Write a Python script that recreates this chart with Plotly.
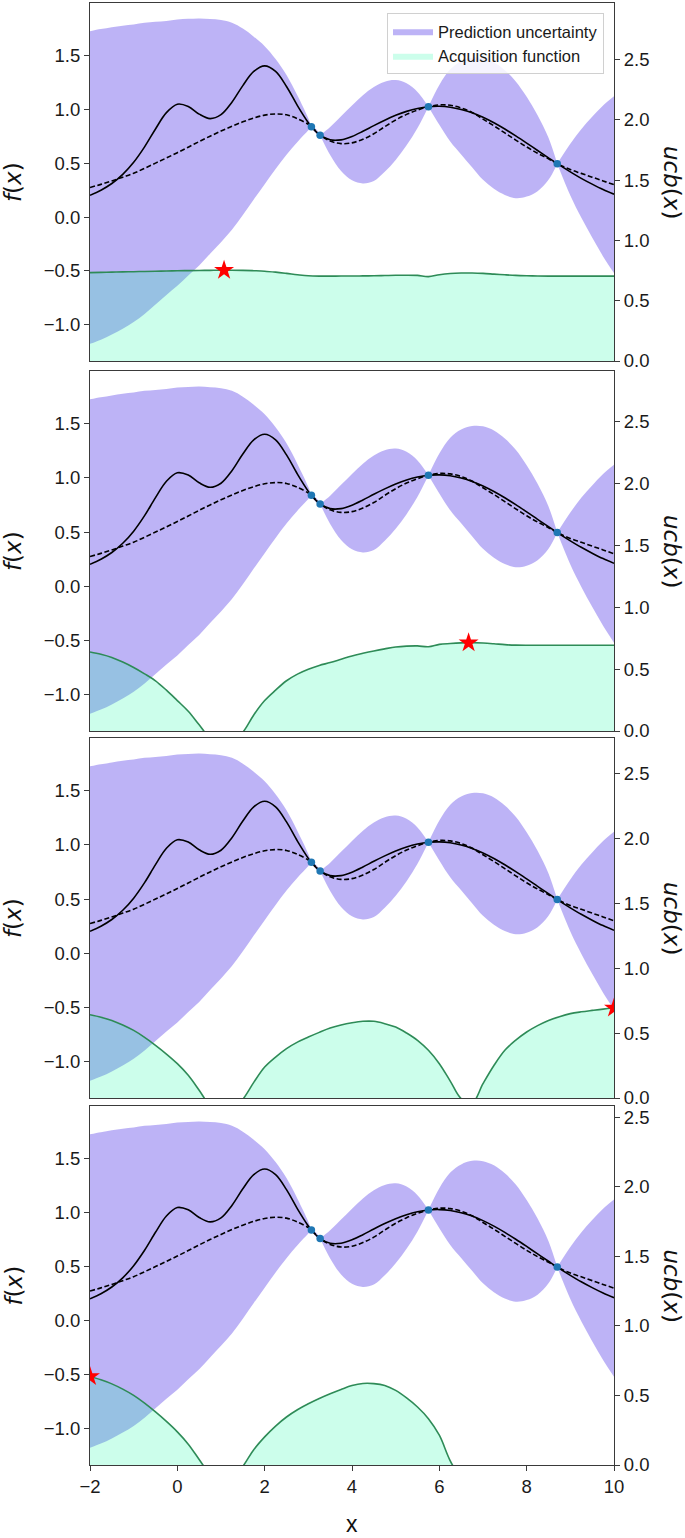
import plotly.graph_objects as go

# ---------------- data ----------------
X_GP = [-2.0, -1.75, -1.5, -1.25, -1.0, -0.75, -0.5, -0.25, 0.0, 0.25, 0.5, 0.75,
        1.0, 1.25, 1.5, 1.75, 2.0, 2.25, 2.5, 2.75, 3.0, 3.07, 3.17, 3.27, 3.5, 3.75,
        4.0, 4.25, 4.5, 4.75, 5.0, 5.25, 5.5, 5.75, 6.0, 6.25, 6.5, 6.75, 7.0, 7.25,
        7.5, 7.75, 8.0, 8.25, 8.5, 8.7, 9.0, 9.25, 9.5, 9.75, 10.0]

F_TRUE = [0.202, 0.249, 0.311, 0.396, 0.508, 0.651, 0.817, 0.968, 1.046, 1.025, 0.954, 0.913,
          0.950, 1.065, 1.219, 1.350, 1.402, 1.350, 1.211, 1.034, 0.875, 0.838, 0.794, 0.759,
          0.716, 0.716, 0.747, 0.795, 0.848, 0.898, 0.943, 0.980, 1.007, 1.023, 1.027, 1.019,
          0.998, 0.967, 0.925, 0.874, 0.816, 0.753, 0.686, 0.617, 0.549, 0.495, 0.419, 0.359,
          0.305, 0.255, 0.212]

GP_MEAN = [0.274, 0.303, 0.335, 0.370, 0.406, 0.452, 0.500, 0.548, 0.597, 0.648, 0.700, 0.750,
           0.797, 0.842, 0.883, 0.918, 0.945, 0.956, 0.948, 0.912, 0.860, 0.838, 0.798, 0.759,
           0.705, 0.681, 0.688, 0.722, 0.772, 0.838, 0.900, 0.952, 0.992, 1.023, 1.040, 1.036,
           1.012, 0.970, 0.908, 0.846, 0.780, 0.714, 0.650, 0.592, 0.540, 0.495, 0.440, 0.405,
           0.370, 0.335, 0.300]

GP_UPPER = [1.724, 1.743, 1.760, 1.775, 1.786, 1.802, 1.810, 1.818, 1.832, 1.838, 1.842, 1.836,
            1.827, 1.802, 1.748, 1.673, 1.585, 1.466, 1.318, 1.127, 0.915, 0.838, 0.818, 0.759,
            0.835, 0.935, 1.035, 1.130, 1.205, 1.255, 1.270, 1.240, 1.160, 1.023, 1.225, 1.370,
            1.445, 1.478, 1.475, 1.436, 1.362, 1.258, 1.115, 0.945, 0.735, 0.495, 0.680, 0.815,
            0.930, 1.035, 1.120]

GP_LOWER = [-1.176, -1.137, -1.090, -1.035, -0.974, -0.898, -0.810, -0.722, -0.638, -0.542, -0.450, -0.340,
            -0.233, -0.118, 0.018, 0.163, 0.305, 0.446, 0.578, 0.697, 0.805, 0.838, 0.778, 0.759,
            0.575, 0.427, 0.341, 0.312, 0.335, 0.420, 0.530, 0.665, 0.825, 1.023, 0.855, 0.700,
            0.580, 0.462, 0.345, 0.262, 0.205, 0.175, 0.190, 0.240, 0.345, 0.495, 0.200, -0.005,
            -0.190, -0.365, -0.520]

X_OBS = [3.07, 3.27, 5.75, 8.7]
Y_OBS = [0.838, 0.759, 1.023, 0.495]

X_ACQ = [-2.0, -1.75, -1.5, -1.25, -1.0, -0.75, -0.5, -0.25, 0.0, 0.25, 0.5, 0.75,
         1.0, 1.25, 1.5, 1.75, 2.0, 2.25, 2.5, 2.75, 3.0, 3.25, 3.5, 3.75,
         4.0, 4.25, 4.5, 4.75, 5.0, 5.25, 5.5, 5.75, 6.0, 6.25, 6.5, 6.75,
         7.0, 7.25, 7.5, 7.75, 8.0, 8.25, 8.5, 8.75, 9.0, 9.25, 9.5, 9.75, 10.0]

UCB_1 = [0.733, 0.735, 0.737, 0.739, 0.741, 0.743, 0.745, 0.747, 0.749, 0.750, 0.751, 0.752,
         0.753, 0.753, 0.752, 0.749, 0.745, 0.737, 0.727, 0.716, 0.707, 0.704, 0.704, 0.705,
         0.705, 0.706, 0.707, 0.709, 0.711, 0.712, 0.710, 0.700, 0.716, 0.726, 0.730, 0.730,
         0.727, 0.721, 0.715, 0.710, 0.707, 0.705, 0.704, 0.704, 0.704, 0.704, 0.704, 0.704, 0.704]

UCB_2 = [0.639, 0.620, 0.594, 0.557, 0.513, 0.462, 0.406, 0.330, 0.246, 0.160, 0.050, -0.060,
         -0.120, -0.090, -0.010, 0.130, 0.246, 0.330, 0.406, 0.460, 0.500, 0.530, 0.553, 0.580,
         0.607, 0.628, 0.647, 0.664, 0.679, 0.686, 0.688, 0.681, 0.700, 0.707, 0.712, 0.714,
         0.711, 0.705, 0.698, 0.694, 0.693, 0.693, 0.693, 0.693, 0.693, 0.693, 0.693, 0.693, 0.693]

UCB_3 = [0.641, 0.622, 0.597, 0.562, 0.520, 0.467, 0.405, 0.338, 0.264, 0.175, 0.060, -0.060,
         -0.120, -0.090, -0.010, 0.120, 0.238, 0.315, 0.380, 0.430, 0.469, 0.505, 0.538, 0.562,
         0.579, 0.590, 0.590, 0.572, 0.546, 0.500, 0.444, 0.367, 0.264, 0.130, -0.005, -0.040,
         0.110, 0.250, 0.367, 0.445, 0.508, 0.557, 0.597, 0.626, 0.649, 0.663, 0.674, 0.684, 0.692]

UCB_4 = [0.636, 0.612, 0.583, 0.545, 0.500, 0.444, 0.381, 0.313, 0.238, 0.150, 0.040, -0.070,
         -0.130, -0.100, -0.010, 0.110, 0.202, 0.280, 0.345, 0.397, 0.440, 0.478, 0.512, 0.543,
         0.571, 0.586, 0.585, 0.572, 0.536, 0.482, 0.417, 0.333, 0.214, 0.030, -0.100, -0.200,
         -0.250, -0.280, -0.300, -0.310, -0.315, -0.315, -0.310, -0.305, -0.300, -0.300, -0.300, -0.300, -0.300]

STAR_X = [1.07, 6.67, 10.0, -2.0]
STAR_Y = [0.752, 0.714, 0.692, 0.636]
UCB_MAX = [2.97, 2.91, 2.77, 2.58]

X_TICKS = [-2, 0, 2, 4, 6, 8, 10]
F_TICKS = [-1.0, -0.5, 0.0, 0.5, 1.0, 1.5]
U_TICKS = [0.0, 0.5, 1.0, 1.5, 2.0, 2.5]

LEGEND_BAND = "Prediction uncertainty"
LEGEND_ACQ = "Acquisition function"

# ---------------- styling ----------------
W, H = 685, 1538
ML, MR, MT, MB = 90, 71, 3, 73
PANEL_PX = [(3, 361), (371, 731), (738, 1098), (1106, 1465)]
PH = H - MT - MB
PW = W - ML - MR

def py2paper(py):
    return (H - MB - py) / PH

def px2paper(px):
    return (px - ML) / PW

SANS = "Liberation Sans, Arial, Helvetica, sans-serif"
MATH = "DejaVu Sans, sans-serif"
AX_COL = "#3a3a3a"
BAND_COL = "rgba(123,104,238,0.5)"
ACQ_FILL = "rgba(0,250,154,0.2)"
ACQ_LINE = "#2e8b57"

# band segments end at the observed points so the band pinches sharply there
cuts = [0] + [X_GP.index(v) for v in X_OBS] + [len(X_GP) - 1]
segments = [(cuts[k], cuts[k + 1]) for k in range(len(cuts) - 1)]

fig = go.Figure()
ucbs = [UCB_1, UCB_2, UCB_3, UCB_4]

for i in range(4):
    xa = "x" if i == 0 else f"x{i+1}"
    ya = "y" if i == 0 else f"y{2*i+1}"
    yb = f"y{2*i+2}"
    first = i == 0
    for k, (a, b) in enumerate(segments):
        xs = X_GP[a:b + 1]
        fig.add_trace(go.Scatter(x=xs, y=GP_LOWER[a:b + 1], xaxis=xa, yaxis=ya, mode="lines",
                                 line=dict(width=0, shape="spline"), showlegend=False,
                                 hoverinfo="skip"))
        fig.add_trace(go.Scatter(x=xs, y=GP_UPPER[a:b + 1], xaxis=xa, yaxis=ya, mode="lines",
                                 line=dict(width=0, shape="spline"), fill="tonexty",
                                 fillcolor=BAND_COL, name=LEGEND_BAND,
                                 showlegend=first and k == 0, legendgroup="band"))
    fig.add_trace(go.Scatter(x=X_GP, y=F_TRUE, xaxis=xa, yaxis=ya, mode="lines",
                             line=dict(color="black", width=1.6, shape="spline"),
                             showlegend=False))
    fig.add_trace(go.Scatter(x=X_GP, y=GP_MEAN, xaxis=xa, yaxis=ya, mode="lines",
                             line=dict(color="black", width=1.6, dash="5px,2.5px", shape="spline"),
                             showlegend=False))
    fig.add_trace(go.Scatter(x=X_OBS, y=Y_OBS, xaxis=xa, yaxis=ya, mode="markers",
                             marker=dict(color="#1f77b4", size=7.5), showlegend=False))
    fig.add_trace(go.Scatter(x=X_ACQ, y=ucbs[i], xaxis=xa, yaxis=yb, mode="lines",
                             line=dict(width=0, shape="spline"), fill="tozeroy",
                             fillcolor=ACQ_FILL, name=LEGEND_ACQ, showlegend=first,
                             legendgroup="acq"))
    fig.add_trace(go.Scatter(x=X_ACQ, y=ucbs[i], xaxis=xa, yaxis=yb, mode="lines",
                             line=dict(color=ACQ_LINE, width=1.6, shape="spline"),
                             showlegend=False))
    fig.add_trace(go.Scatter(x=[STAR_X[i]], y=[STAR_Y[i]], xaxis=xa, yaxis=yb, mode="markers",
                             marker=dict(symbol="star", color="red", size=15, line=dict(width=0)),
                             showlegend=False))

layout = dict(
    width=W, height=H,
    margin=dict(l=ML, r=MR, t=MT, b=MB),
    plot_bgcolor="white", paper_bgcolor="white",
    font=dict(family=SANS, size=18.5, color="#1a1a1a"),
    legend=dict(x=px2paper(604), y=py2paper(13), xanchor="right", yanchor="top",
                bgcolor="rgba(255,255,255,0.85)", bordercolor="#d0d0d0", borderwidth=1,
                font=dict(family=SANS, size=16.5, color="#1a1a1a"), traceorder="normal",
                itemwidth=40),
)

annotations = []
for i in range(4):
    top, bot = PANEL_PX[i]
    dom = [py2paper(bot), py2paper(top)]
    xk = "xaxis" if i == 0 else f"xaxis{i+1}"
    yak = "yaxis" if i == 0 else f"yaxis{2*i+1}"
    ybk = f"yaxis{2*i+2}"
    ya = "y" if i == 0 else f"y{2*i+1}"
    xa = "x" if i == 0 else f"x{i+1}"
    last = i == 3
    layout[xk] = dict(domain=[0, 1], range=[-2, 10], anchor=ya, showline=True, mirror=True,
                      linecolor=AX_COL, linewidth=1.2, showgrid=False, zeroline=False,
                      tickvals=X_TICKS if last else [], ticks="outside" if last else "",
                      ticklen=5, tickcolor=AX_COL, showticklabels=last)
    layout[yak] = dict(domain=dom, range=[-1.335, 1.985], anchor=xa, showline=True,
                       linecolor=AX_COL, linewidth=1.2, showgrid=False, zeroline=False,
                       tickvals=F_TICKS, tickformat=".1f", ticks="outside", ticklen=5,
                       tickcolor=AX_COL)
    layout[ybk] = dict(overlaying=ya, side="right", anchor=xa, range=[0, UCB_MAX[i]],
                       showline=True, linecolor=AX_COL, linewidth=1.2, showgrid=False,
                       zeroline=False, tickvals=U_TICKS, tickformat=".1f", ticks="outside",
                       ticklen=5, tickcolor=AX_COL)
    yc = py2paper((top + bot) / 2)
    annotations.append(dict(text="<i>f</i>(<i>x</i>)", xref="paper", yref="paper",
                            x=px2paper(13), y=yc, showarrow=False, textangle=-90,
                            font=dict(family=MATH, size=23, color="#111111"),
                            xanchor="center", yanchor="middle"))
    annotations.append(dict(text="<i>ucb</i>(<i>x</i>)", xref="paper", yref="paper",
                            x=px2paper(672), y=yc, showarrow=False, textangle=90,
                            font=dict(family=MATH, size=23, color="#111111"),
                            xanchor="center", yanchor="middle"))

annotations.append(dict(text="x", xref="paper", yref="paper", x=0.5, y=py2paper(1524),
                        showarrow=False, font=dict(family=SANS, size=23, color="#111111"),
                        xanchor="center", yanchor="middle"))
layout["annotations"] = annotations
fig.update_layout(**layout)

fig.write_html("out.html", config={"displayModeBar": False},
               post_script="document.body.style.margin='0';document.body.style.overflow='hidden';")
